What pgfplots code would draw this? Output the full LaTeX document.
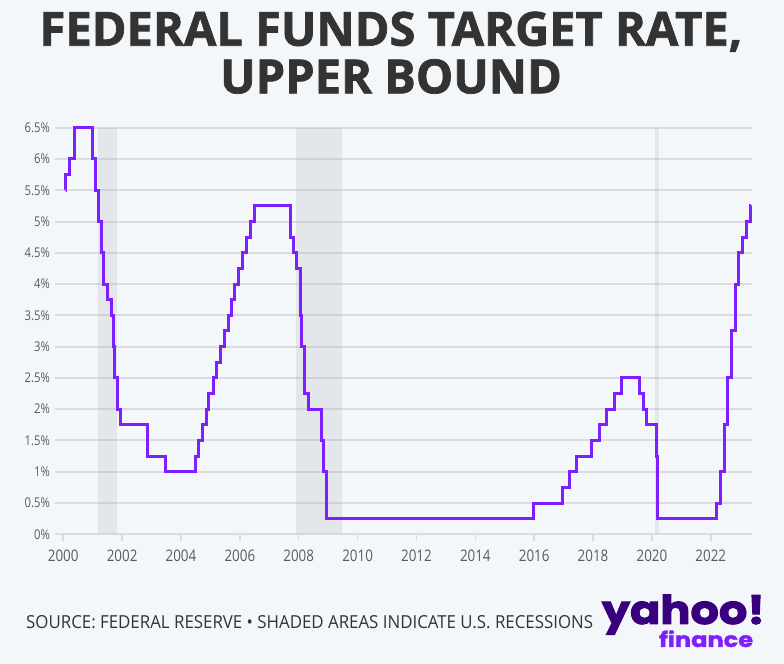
\documentclass[border=0pt]{standalone}
\usepackage{fontspec}
\usepackage{pgfplots}
\pgfplotsset{compat=1.18}
\setmainfont{Open Sans}
\newfontfamily\titlefont{Open Sans}[BoldFeatures={FakeBold=1.5}]
\newfontfamily\tickfont{Open Sans}[FakeStretch=0.84]
\newfontfamily\footfont{Open Sans}[FakeStretch=0.94]
\newfontfamily\logofont{Poppins}[FakeStretch=1.12,BoldFeatures={FakeBold=2.5}]
\newfontfamily\finfont{Poppins}[FakeStretch=1.15,BoldFeatures={FakeBold=1.5}]
\definecolor{bg}{RGB}{244,247,250}
\definecolor{fedpurple}{RGB}{126,31,255}
\definecolor{logodark}{RGB}{57,0,125}
\definecolor{gridc}{RGB}{220,220,222}
\definecolor{tickc}{RGB}{90,90,90}
\definecolor{titlec}{RGB}{51,51,51}
\definecolor{recess}{RGB}{150,160,175}
\begin{document}
\begin{tikzpicture}[x=1bp,y=1bp]
\path[fill=bg,use as bounding box] (0,0) rectangle (784,664);
\node[anchor=base,inner sep=0pt,text=titlec] at (391,618.3) {\titlefont\bfseries\fontsize{47.2}{48}\selectfont FEDERAL FUNDS TARGET RATE,};
\node[anchor=base,inner sep=0pt,text=titlec] at (391,570.7) {\titlefont\bfseries\fontsize{47.2}{48}\selectfont UPPER BOUND};
\begin{axis}[
  scale only axis, width=696.7bp, height=406.6bp,
  at={(55bp,129.7bp)}, anchor=south west,
  xmin=1999.72, xmax=2023.39, ymin=0, ymax=6.5,
  clip=false,
  axis line style={draw=none},
  ytick={0,0.5,...,6.5},
  yticklabels={0\%,0.5\%,1\%,1.5\%,2\%,2.5\%,3\%,3.5\%,4\%,4.5\%,5\%,5.5\%,6\%,6.5\%},
  xtick={2000,2002,...,2022},
  xticklabels={2000,2002,2004,2006,2008,2010,2012,2014,2016,2018,2020,2022},
  ymajorgrids, grid style={gridc, line width=2bp},
  ytick style={draw=none},
  xtick pos=bottom, ytick pos=left,
  xtick style={draw=gridc, line width=1.5bp},
  xtick align=outside, major tick length=7bp,
  yticklabel style={font=\tickfont\fontsize{13.5}{14}\selectfont, text=tickc, anchor=east, inner sep=0pt, xshift=-5bp},
  xticklabel style={font=\tickfont\fontsize{16}{17}\selectfont, text=tickc, anchor=base, inner sep=0pt, yshift=-20bp},
  /pgf/number format/assume math mode=true,
]
\addplot[draw=none, fill=recess, fill opacity=0.18] coordinates {(2001.17,0)(2001.17,6.5)(2001.83,6.5)(2001.83,0)} -- cycle;
\addplot[draw=none, fill=recess, fill opacity=0.18] coordinates {(2007.92,0)(2007.92,6.5)(2009.46,6.5)(2009.46,0)} -- cycle;
\addplot[draw=none, fill=recess, fill opacity=0.18] coordinates {(2020.10,0)(2020.10,6.5)(2020.25,6.5)(2020.25,0)} -- cycle;
\addplot[const plot, fedpurple, line width=3bp, line join=miter] coordinates {
(2000.08,5.50)(2000.09,5.75)(2000.22,6.00)(2000.37,6.50)
(2001.01,6.00)(2001.08,5.50)(2001.21,5.00)(2001.30,4.50)(2001.37,4.00)
(2001.49,3.75)(2001.64,3.50)(2001.71,3.00)(2001.75,2.50)(2001.85,2.00)
(2001.94,1.75)(2002.85,1.25)(2003.48,1.00)(2004.49,1.25)(2004.61,1.50)
(2004.72,1.75)(2004.86,2.00)(2004.95,2.25)(2005.09,2.50)(2005.22,2.75)
(2005.33,3.00)(2005.49,3.25)(2005.60,3.50)(2005.72,3.75)(2005.83,4.00)
(2005.95,4.25)(2006.08,4.50)(2006.24,4.75)(2006.36,5.00)(2006.49,5.25)
(2007.71,4.75)(2007.83,4.50)(2007.94,4.25)(2008.06,3.50)(2008.08,3.00)
(2008.21,2.25)(2008.33,2.00)(2008.77,1.50)(2008.83,1.00)(2008.96,0.25)
(2015.96,0.50)(2016.95,0.75)(2017.20,1.00)(2017.45,1.25)(2017.95,1.50)
(2018.22,1.75)(2018.45,2.00)(2018.74,2.25)(2018.97,2.50)(2019.58,2.25)
(2019.71,2.00)(2019.83,1.75)(2020.17,1.25)(2020.20,0.25)(2022.21,0.50)
(2022.34,1.00)(2022.45,1.75)(2022.57,2.50)(2022.72,3.25)(2022.84,4.00)
(2022.95,4.50)(2023.09,4.75)(2023.22,5.00)(2023.34,5.25)(2023.35,5.25)
};
\end{axis}
\node[anchor=base west,inner sep=0pt,text=titlec] at (26,35.7) {\footfont\fontsize{18}{18}\selectfont SOURCE: FEDERAL RESERVE • SHADED AREAS INDICATE U.S. RECESSIONS};
\node[anchor=base west,inner sep=0pt,text depth=0pt,text=logodark] at (601.7,40) {\logofont\bfseries\fontsize{40}{40}\selectfont yahoo!};
\node[anchor=base west,inner sep=0pt,text height=10bp,text=fedpurple] at (659,17) {\finfont\bfseries\fontsize{21}{21}\selectfont finance};
\end{tikzpicture}
\end{document}
